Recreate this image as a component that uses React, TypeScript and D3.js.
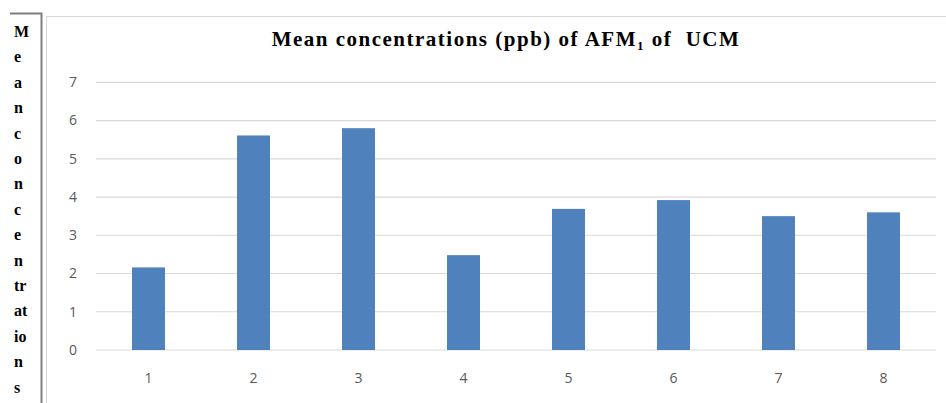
import * as d3 from 'd3';
import React from 'react';

const categories = ['1', '2', '3', '4', '5', '6', '7', '8'];
const values = [2.16, 5.61, 5.8, 2.48, 3.69, 3.92, 3.5, 3.6];
const yTicks = [0, 1, 2, 3, 4, 5, 6, 7];
const sideLabel = ['M', 'e', 'a', 'n', 'c', 'o', 'n', 'c', 'e', 'n', 'tr', 'at', 'io', 'n', 's'];

const width = 946;
const height = 403;
const plot = { left: 96, right: 936, top: 82.3, bottom: 350 };

const App: React.FC = () => {
  const x = d3
    .scaleBand<string>()
    .domain(categories)
    .range([plot.left, plot.right])
    .paddingInner(0.686)
    .paddingOuter(0.343);
  const y = d3.scaleLinear().domain([0, 7]).range([plot.bottom, plot.top]);
  const serif = '"Liberation Serif", "Times New Roman", serif';
  const sans = '"Open Sans", "Noto Sans", sans-serif';

  return (
    <svg
      width={width}
      height={height}
      style={{ position: 'absolute', left: 0, top: 0, background: '#fff' }}
    >
      {/* left axis-title panel */}
      <path d="M10,13.5 H41.5 V403" fill="none" stroke="#7f7f7f" strokeWidth={2} />
      {sideLabel.map((s, i) => (
        <text
          key={i}
          x={14}
          y={37 + i * 25.4}
          fontFamily={serif}
          fontWeight="bold"
          fontSize={16}
          fill="#000"
        >
          {s}
        </text>
      ))}
      {/* chart area border */}
      <rect x={46.5} y={16.5} width={width} height={height} fill="#fff" stroke="#d9d9d9" />
      <text
        x={506}
        y={46}
        textAnchor="middle"
        fontFamily={serif}
        fontWeight="bold"
        fontSize={21}
        letterSpacing={1.5}
        fill="#000"
        style={{ whiteSpace: 'pre' }}
      >
        Mean concentrations (ppb) of AFM
        <tspan fontSize={13} dy={4}>1</tspan>
        <tspan dy={-4}>{' of  UCM'}</tspan>
      </text>
      {yTicks.map((t) => (
        <g key={t}>
          <line x1={plot.left} x2={plot.right} y1={y(t)} y2={y(t)} stroke="#d9d9d9" strokeWidth={1.2} />
          <text
            x={77}
            y={y(t)}
            dy="0.35em"
            textAnchor="end"
            fontFamily={sans}
            fontSize={14}
            fill="#595959"
          >
            {t}
          </text>
        </g>
      ))}
      {categories.map((c, i) => (
        <rect
          key={c}
          x={x(c)!}
          y={y(values[i])}
          width={x.bandwidth()}
          height={y(0) - y(values[i])}
          fill="#4f81bd"
        />
      ))}
      {categories.map((c) => (
        <text
          key={c}
          x={x(c)! + x.bandwidth() / 2}
          y={383}
          textAnchor="middle"
          fontFamily={sans}
          fontSize={14}
          fill="#595959"
        >
          {c}
        </text>
      ))}
    </svg>
  );
};

export default App;
